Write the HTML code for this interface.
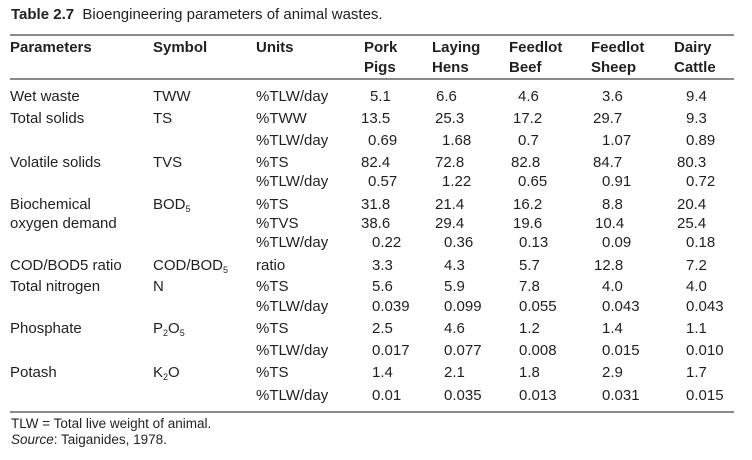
<!DOCTYPE html>
<html><head><meta charset="utf-8">
<style>
html,body{margin:0;padding:0;background:#fff;}
body{width:752px;height:460px;position:relative;overflow:hidden;font-family:"Liberation Sans",Arial,sans-serif;color:#231f20;}
.t{position:absolute;font-size:15px;line-height:20px;white-space:nowrap;}
.b{font-weight:bold;}
.f{position:absolute;font-size:13.5px;line-height:18px;white-space:nowrap;}
.rule{position:absolute;left:10px;width:724px;height:2px;background:#8a8a8a;}
sub{font-size:9px;vertical-align:-3px;line-height:0;}
</style></head><body>
<div class="t" style="left:11px;top:5px"><b>Table 2.7</b>&nbsp; Bioengineering parameters of animal wastes.</div>
<div class="rule" style="top:34px"></div>
<div class="t b" style="left:10px;top:38px">Parameters</div>
<div class="t b" style="left:153px;top:38px">Symbol</div>
<div class="t b" style="left:256px;top:38px">Units</div>
<div class="t b" style="left:364px;top:38px">Pork<br>Pigs</div>
<div class="t b" style="left:432px;top:38px">Laying<br>Hens</div>
<div class="t b" style="left:509px;top:38px">Feedlot<br>Beef</div>
<div class="t b" style="left:591px;top:38px">Feedlot<br>Sheep</div>
<div class="t b" style="left:674px;top:38px">Dairy<br>Cattle</div>
<div class="rule" style="top:78px"></div>

<!-- parameters -->
<div class="t" style="left:10px;top:87px">Wet waste</div>
<div class="t" style="left:10px;top:109px">Total solids</div>
<div class="t" style="left:10px;top:153px">Volatile solids</div>
<div class="t" style="left:10px;top:195px">Biochemical</div>
<div class="t" style="left:10px;top:214px">oxygen demand</div>
<div class="t" style="left:10px;top:256px">COD/BOD5 ratio</div>
<div class="t" style="left:10px;top:277px">Total nitrogen</div>
<div class="t" style="left:10px;top:319px">Phosphate</div>
<div class="t" style="left:10px;top:363px">Potash</div>

<!-- symbols -->
<div class="t" style="left:153px;top:87px">TWW</div>
<div class="t" style="left:153px;top:109px">TS</div>
<div class="t" style="left:153px;top:153px">TVS</div>
<div class="t" style="left:153px;top:195px">BOD<sub>5</sub></div>
<div class="t" style="left:153px;top:256px">COD/BOD<sub>5</sub></div>
<div class="t" style="left:153px;top:277px">N</div>
<div class="t" style="left:153px;top:319px">P<sub>2</sub>O<sub>5</sub></div>
<div class="t" style="left:153px;top:363px">K<sub>2</sub>O</div>

<!-- units -->
<div class="t" style="left:256px;top:87px">%TLW/day</div>
<div class="t" style="left:256px;top:109px">%TWW</div>
<div class="t" style="left:256px;top:131px">%TLW/day</div>
<div class="t" style="left:256px;top:153px">%TS</div>
<div class="t" style="left:256px;top:172px">%TLW/day</div>
<div class="t" style="left:256px;top:195px">%TS</div>
<div class="t" style="left:256px;top:214px">%TVS</div>
<div class="t" style="left:256px;top:233px">%TLW/day</div>
<div class="t" style="left:256px;top:256px">ratio</div>
<div class="t" style="left:256px;top:277px">%TS</div>
<div class="t" style="left:256px;top:297px">%TLW/day</div>
<div class="t" style="left:256px;top:319px">%TS</div>
<div class="t" style="left:256px;top:341px">%TLW/day</div>
<div class="t" style="left:256px;top:363px">%TS</div>
<div class="t" style="left:256px;top:386px">%TLW/day</div>

<!-- Pork -->
<div class="t" style="left:370px;top:87px">5.1</div>
<div class="t" style="left:361px;top:109px">13.5</div>
<div class="t" style="left:368px;top:131px">0.69</div>
<div class="t" style="left:361px;top:153px">82.4</div>
<div class="t" style="left:368px;top:172px">0.57</div>
<div class="t" style="left:361px;top:195px">31.8</div>
<div class="t" style="left:361px;top:214px">38.6</div>
<div class="t" style="left:372px;top:233px">0.22</div>
<div class="t" style="left:372px;top:256px">3.3</div>
<div class="t" style="left:372px;top:277px">5.6</div>
<div class="t" style="left:372px;top:297px">0.039</div>
<div class="t" style="left:372px;top:319px">2.5</div>
<div class="t" style="left:372px;top:341px">0.017</div>
<div class="t" style="left:372px;top:363px">1.4</div>
<div class="t" style="left:372px;top:386px">0.01</div>

<!-- Laying -->
<div class="t" style="left:436px;top:87px">6.6</div>
<div class="t" style="left:435px;top:109px">25.3</div>
<div class="t" style="left:442px;top:131px">1.68</div>
<div class="t" style="left:435px;top:153px">72.8</div>
<div class="t" style="left:442px;top:172px">1.22</div>
<div class="t" style="left:435px;top:195px">21.4</div>
<div class="t" style="left:435px;top:214px">29.4</div>
<div class="t" style="left:444px;top:233px">0.36</div>
<div class="t" style="left:444px;top:256px">4.3</div>
<div class="t" style="left:444px;top:277px">5.9</div>
<div class="t" style="left:444px;top:297px">0.099</div>
<div class="t" style="left:444px;top:319px">4.6</div>
<div class="t" style="left:444px;top:341px">0.077</div>
<div class="t" style="left:444px;top:363px">2.1</div>
<div class="t" style="left:444px;top:386px">0.035</div>

<!-- Beef -->
<div class="t" style="left:518px;top:87px">4.6</div>
<div class="t" style="left:513px;top:109px">17.2</div>
<div class="t" style="left:518px;top:131px">0.7</div>
<div class="t" style="left:511px;top:153px">82.8</div>
<div class="t" style="left:518px;top:172px">0.65</div>
<div class="t" style="left:513px;top:195px">16.2</div>
<div class="t" style="left:513px;top:214px">19.6</div>
<div class="t" style="left:519px;top:233px">0.13</div>
<div class="t" style="left:519px;top:256px">5.7</div>
<div class="t" style="left:519px;top:277px">7.8</div>
<div class="t" style="left:519px;top:297px">0.055</div>
<div class="t" style="left:519px;top:319px">1.2</div>
<div class="t" style="left:519px;top:341px">0.008</div>
<div class="t" style="left:519px;top:363px">1.8</div>
<div class="t" style="left:519px;top:386px">0.013</div>

<!-- Sheep -->
<div class="t" style="left:602px;top:87px">3.6</div>
<div class="t" style="left:593px;top:109px">29.7</div>
<div class="t" style="left:602px;top:131px">1.07</div>
<div class="t" style="left:593px;top:153px">84.7</div>
<div class="t" style="left:602px;top:172px">0.91</div>
<div class="t" style="left:602px;top:195px">8.8</div>
<div class="t" style="left:595px;top:214px">10.4</div>
<div class="t" style="left:602px;top:233px">0.09</div>
<div class="t" style="left:594px;top:256px">12.8</div>
<div class="t" style="left:602px;top:277px">4.0</div>
<div class="t" style="left:602px;top:297px">0.043</div>
<div class="t" style="left:602px;top:319px">1.4</div>
<div class="t" style="left:602px;top:341px">0.015</div>
<div class="t" style="left:602px;top:363px">2.9</div>
<div class="t" style="left:602px;top:386px">0.031</div>

<!-- Dairy -->
<div class="t" style="left:686px;top:87px">9.4</div>
<div class="t" style="left:686px;top:109px">9.3</div>
<div class="t" style="left:686px;top:131px">0.89</div>
<div class="t" style="left:677px;top:153px">80.3</div>
<div class="t" style="left:686px;top:172px">0.72</div>
<div class="t" style="left:677px;top:195px">20.4</div>
<div class="t" style="left:677px;top:214px">25.4</div>
<div class="t" style="left:686px;top:233px">0.18</div>
<div class="t" style="left:686px;top:256px">7.2</div>
<div class="t" style="left:686px;top:277px">4.0</div>
<div class="t" style="left:686px;top:297px">0.043</div>
<div class="t" style="left:686px;top:319px">1.1</div>
<div class="t" style="left:686px;top:341px">0.010</div>
<div class="t" style="left:686px;top:363px">1.7</div>
<div class="t" style="left:686px;top:386px">0.015</div>

<div class="rule" style="top:411px"></div>
<div class="f" style="left:11px;top:415px">TLW = Total live weight of animal.</div>
<div class="f" style="left:11px;top:431px"><i>Source</i>: Taiganides, 1978.</div>
</body></html>
